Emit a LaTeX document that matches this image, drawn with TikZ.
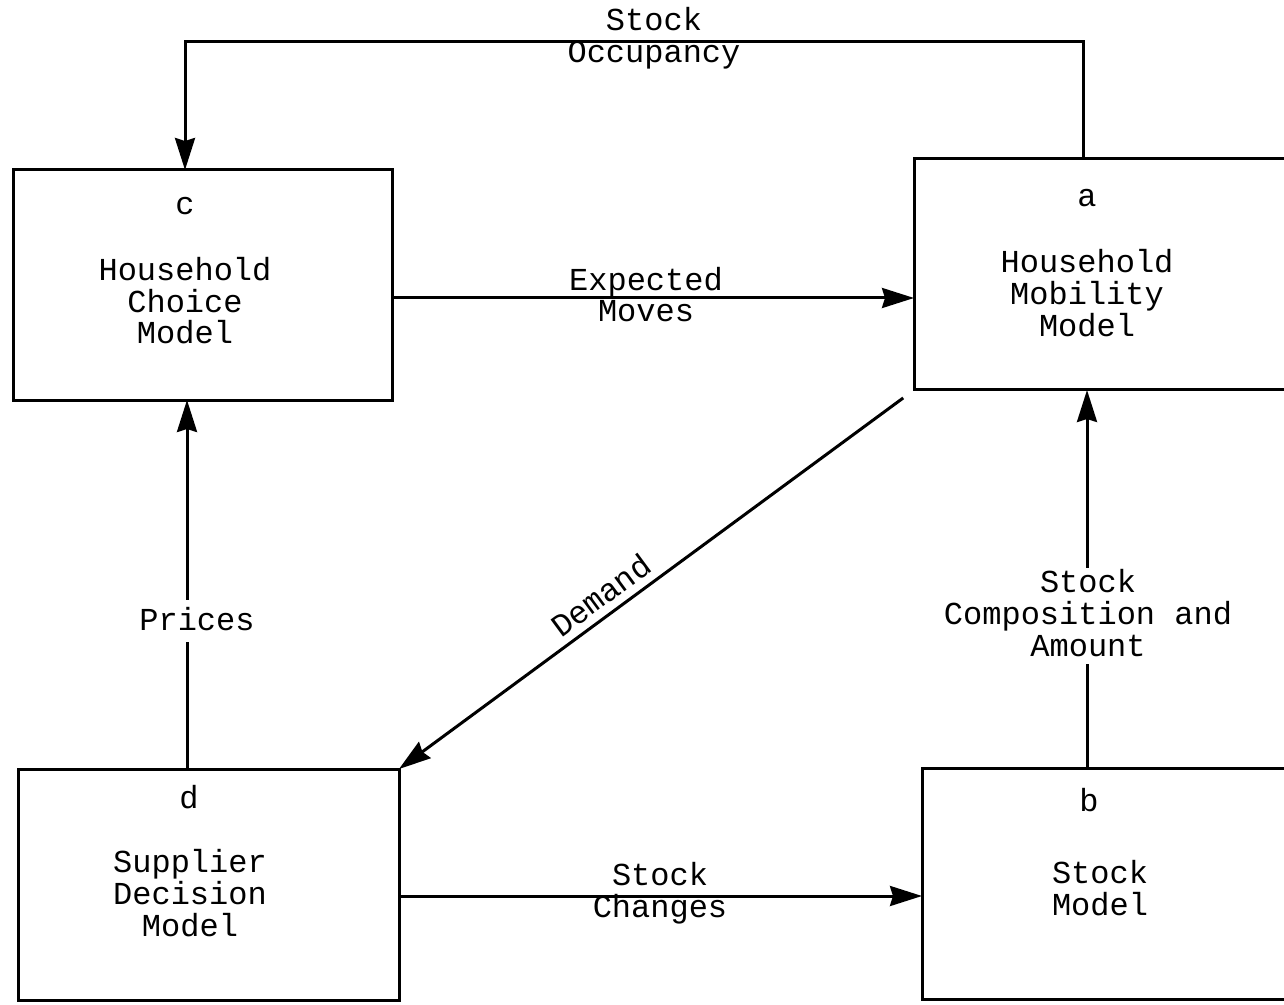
\documentclass[tikz,border=0pt]{standalone}
\usepackage{fontspec}
\newfontfamily\monolab{Liberation Mono}
\newcommand\lstr{\vrule width0pt height12pt depth4pt\relax}
\newcommand\labfont{\monolab\fontsize{16pt}{16pt}\selectfont\lineskiplimit-20pt\relax}
\usetikzlibrary{arrows.meta,calc}
\tikzset{
  box/.style={draw, line width=1.5pt, inner sep=0pt, outer sep=0pt},
  txt/.style={font=\labfont, inner sep=0pt, align=center},
  conn/.style={line width=1.5pt, -{Stealth[length=16pt,width=10pt,inset=1.5pt]}},
  plain/.style={line width=1.5pt}
}
\begin{document}
\begin{tikzpicture}[x=0.5pt,y=-0.5pt]
\useasboundingbox (0,0) rectangle (1284,1005);
\clip (0,0) rectangle (1284,1005);
% boxes
\node[box, minimum width=189.5pt, minimum height=115pt] (c) at (202.5,285) {};
\node[box, minimum width=193pt, minimum height=115.5pt] (a) at (1107,274.5) {};
\node[box, minimum width=190.5pt, minimum height=115.5pt] (d) at (208.5,884.5) {};
\node[box, minimum width=189pt, minimum height=115.5pt] (b) at (1111,883.5) {};
% box texts
\node[txt, anchor=base] (cl) at (185,215) {c};
\node[txt] (ct) at (185,304) {\lstr Household\\\lstr Choice\\\lstr Model};
\node[txt, anchor=base] (al) at (1087,207) {a};
\node[txt] (at) at (1087,296) {\lstr Household\\\lstr Mobility\\\lstr Model};
\node[txt, anchor=base] (dl) at (189,808) {d};
\node[txt] (dt) at (190,896) {\lstr Supplier\\\lstr Decision\\\lstr Model};
\node[txt, anchor=base] (bl) at (1089,811) {b};
\node[txt] (bt) at (1100,891) {\lstr Stock\\\lstr Model};
% helper coordinates
\coordinate (tl) at (185,42);
\coordinate (tr) at (1083,42);
\coordinate (em) at (650,298);
\coordinate (sc) at (660,896);
\coordinate (pr) at (187,620);
\coordinate (sa) at (1087,620);
% connectors
\draw[conn] (a.north -| tr) -- (tr) -- (tl) -- (c.north -| tl);
\node[txt] (occ) at (654,39) {\lstr Stock\\\lstr Occupancy};
\draw[conn] (c.east |- em) -- (a.west |- em);
\node[txt] (emt) at (646,298) {\lstr Expected\\\lstr Moves};
\draw[conn] (d.east |- sc) -- (b.west |- sc);
\node[txt] (sct) at (660,893) {\lstr Stock\\\lstr Changes};
\draw[conn] (d.north -| pr) -- (c.south -| pr);
\node[txt, anchor=base, fill=white, text height=15pt, text depth=6pt] (prt) at (197,630) {Prices};
\draw[conn] (b.north -| sa) -- (a.south -| sa);
\node[txt, fill=white] (sat) at (1088,616) {\lstr Stock\\\lstr Composition and\\\lstr Amount};
\draw[conn, shorten <=6.7pt] (a.south west) -- node[txt, sloped, above, pos=0.585, inner sep=3.5pt] (dem) {Demand} (d.north east);
\end{tikzpicture}
\end{document}
